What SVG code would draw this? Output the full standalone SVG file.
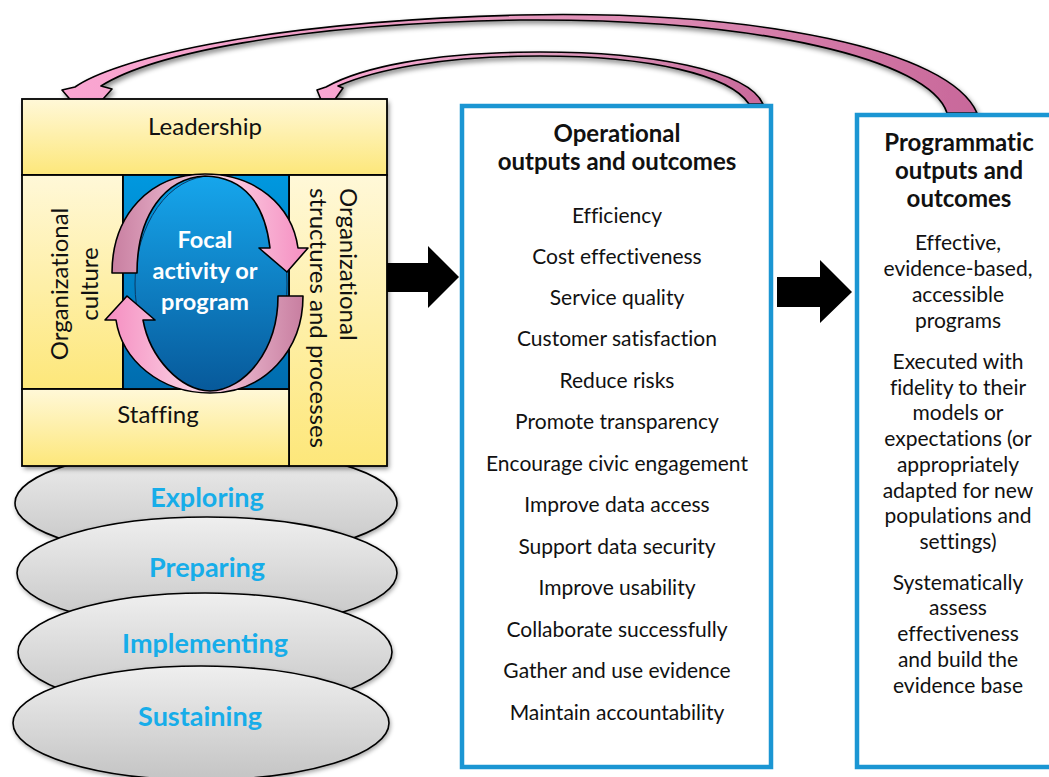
<svg xmlns="http://www.w3.org/2000/svg" width="1049" height="777" viewBox="0 0 1049 777">
<style>
.t{font-family:Lato,"Open Sans","Liberation Sans",sans-serif;fill:#111;font-variant-ligatures:none;}
.item{font-size:21px;text-anchor:middle;}
.title{font-size:24px;font-weight:bold;text-anchor:middle;}
.yel{stroke:#000;stroke-width:1.8;}
.stage{stroke:#000;stroke-width:1.6;fill:url(#gGray);}
.stxt{font-family:Lato,"Open Sans","Liberation Sans",sans-serif;font-size:27px;font-weight:bold;fill:#17ade9;text-anchor:middle;}
.box{fill:#fff;stroke:#1b96d3;stroke-width:4.5;}
.arc{stroke:#000;stroke-width:1.6;stroke-linejoin:round;}
</style>
<defs>
<linearGradient id="gYel" x1="0" y1="0" x2="0" y2="1"><stop offset="0" stop-color="#fff8d8"/><stop offset="1" stop-color="#fde77a"/></linearGradient>
<linearGradient id="gSq" x1="0" y1="0" x2="0" y2="1"><stop offset="0" stop-color="#0098df"/><stop offset="1" stop-color="#006cae"/></linearGradient>
<linearGradient id="gOv" x1="0" y1="0" x2="0" y2="1"><stop offset="0" stop-color="#16a6ec"/><stop offset="1" stop-color="#07599a"/></linearGradient>
<linearGradient id="gGray" x1="0" y1="0" x2="0" y2="1"><stop offset="0" stop-color="#efefef"/><stop offset="1" stop-color="#c4c4c4"/></linearGradient>
<linearGradient id="gArcA" gradientUnits="userSpaceOnUse" x1="60" y1="0" x2="980" y2="0"><stop offset="0" stop-color="#fba6d2"/><stop offset="0.5" stop-color="#e598bd"/><stop offset="1" stop-color="#c8689a"/></linearGradient>
<linearGradient id="gArcB" gradientUnits="userSpaceOnUse" x1="315" y1="0" x2="765" y2="0"><stop offset="0" stop-color="#fba6d2"/><stop offset="0.5" stop-color="#e0a0c0"/><stop offset="1" stop-color="#c8689a"/></linearGradient>
<linearGradient id="gCirTop" gradientUnits="userSpaceOnUse" x1="110" y1="0" x2="310" y2="0"><stop offset="0" stop-color="#c77d9f"/><stop offset="0.55" stop-color="#fbd2e4"/><stop offset="1" stop-color="#f58cc0"/></linearGradient>
<linearGradient id="gCirBot" gradientUnits="userSpaceOnUse" x1="105" y1="0" x2="305" y2="0"><stop offset="0" stop-color="#f58cc0"/><stop offset="0.45" stop-color="#fbd2e4"/><stop offset="1" stop-color="#c77d9f"/></linearGradient>
<filter id="sh" x="-10%" y="-10%" width="130%" height="130%"><feDropShadow dx="2" dy="3" stdDeviation="2.5" flood-color="#000" flood-opacity="0.45"/></filter>
<filter id="shs" x="-10%" y="-10%" width="130%" height="130%"><feDropShadow dx="1" dy="2" stdDeviation="2" flood-color="#000" flood-opacity="0.35"/></filter>
</defs>

<g id="connectors">
  <path id="arc-programmatic" class="arc" filter="url(#sh)" fill="url(#gArcA)" d="M 62 90 L 75 87 C 110 62, 250 22, 520 15 C 760 10, 950 50, 977 113 L 947 113 C 930 60, 760 18, 520 20 C 290 24, 150 55, 101 86 L 112 89 L 86 118 Z"/>
  <path id="arc-operational" class="arc" filter="url(#sh)" fill="url(#gArcB)" d="M 317 90 L 326 87 C 360 68, 430 52, 540 52 C 650 52, 748 70, 763 104 L 749 104 C 730 75, 650 56, 540 56 C 440 56, 375 70, 338 86 L 343 88 L 326 112 Z"/>
  <polygon id="arrow-1" fill="#000" points="385,263 428,263 428,246 459,277 428,308 428,292 385,292"/>
  <polygon id="arrow-2" fill="#000" points="777,277 820,277 820,260 852,292 820,323 820,307 777,307"/>
</g>

<g id="stages">
  <g id="stage-exploring"><ellipse class="stage" filter="url(#shs)" cx="206" cy="503" rx="191" ry="55"/><text class="stxt" x="207" y="507">Exploring</text></g>
  <g id="stage-preparing"><ellipse class="stage" filter="url(#shs)" cx="207" cy="573" rx="190" ry="56"/><text class="stxt" x="207" y="577">Preparing</text></g>
  <g id="stage-implementing"><ellipse class="stage" filter="url(#shs)" cx="205" cy="652" rx="187" ry="59"/><text class="stxt" x="205" y="653">Implementing</text></g>
  <g id="stage-sustaining"><ellipse class="stage" filter="url(#shs)" cx="201" cy="723" rx="188" ry="57"/><text class="stxt" x="200" y="726">Sustaining</text></g>
</g>

<g id="organization">
  <rect x="22" y="99" width="365" height="367" fill="#fde77a" filter="url(#sh)"/>
  <g id="leadership"><rect class="yel" x="22" y="99" width="365" height="76" fill="url(#gYel)"/><text class="t" x="205" y="135" font-size="24" text-anchor="middle">Leadership</text></g>
  <g id="culture"><rect class="yel" x="22" y="175" width="101" height="214" fill="url(#gYel)"/>
    <text class="t" font-size="24" text-anchor="middle" transform="translate(68,284) rotate(-90)">Organizational</text>
    <text class="t" font-size="24" text-anchor="middle" transform="translate(98,284) rotate(-90)">culture</text></g>
  <g id="structures"><rect class="yel" x="289" y="175" width="98" height="291" fill="url(#gYel)"/>
    <text class="t" font-size="24" transform="translate(340,188) rotate(90)">Organizational</text>
    <text class="t" font-size="24" transform="translate(310,188) rotate(90)">structures and processes</text></g>
  <g id="staffing"><rect class="yel" x="22" y="389" width="267" height="77" fill="url(#gYel)"/><text class="t" x="158" y="423" font-size="24" text-anchor="middle">Staffing</text></g>
  <g id="focal">
    <rect x="123" y="175" width="166" height="214" fill="url(#gSq)" stroke="#000" stroke-width="1.8"/>
    <ellipse cx="211" cy="284" rx="76" ry="108" fill="url(#gOv)" stroke="#0a3a66" stroke-width="1"/>
    <path class="arc" fill="url(#gCirTop)" d="M 112 273 C 112 215, 150 174, 205 174 C 255 174, 292 205, 298 248 L 308 248 L 287 272 L 259 248 L 270 248 C 265 205, 245 177, 205 176 C 165 178, 137 215, 137 273 Z"/>
    <path class="arc" fill="url(#gCirBot)" d="M 303 296 C 303 350, 265 393, 210 393 C 160 393, 122 360, 116 320 L 105 320 L 127 296 L 155 320 L 143 320 C 150 358, 180 390, 210 391 C 245 390, 278 350, 278 296 Z"/>
    <text class="t" font-size="23.5" font-weight="bold" text-anchor="middle" style="fill:#fff"><tspan x="205" y="248">Focal</tspan><tspan x="205" y="279">activity or</tspan><tspan x="205" y="310">program</tspan></text>
  </g>
</g>

<g id="operational">
  <rect class="box" x="462" y="106" width="309" height="661"/>
  <text class="t title"><tspan x="617" y="142">Operational</tspan><tspan x="617" y="170">outputs and outcomes</tspan></text>
  <text class="t item" x="617" y="223">Efficiency</text>
  <text class="t item" x="617" y="264">Cost effectiveness</text>
  <text class="t item" x="617" y="305">Service quality</text>
  <text class="t item" x="617" y="346">Customer satisfaction</text>
  <text class="t item" x="617" y="388">Reduce risks</text>
  <text class="t item" x="617" y="429">Promote transparency</text>
  <text class="t item" x="617" y="471">Encourage civic engagement</text>
  <text class="t item" x="617" y="512">Improve data access</text>
  <text class="t item" x="617" y="554">Support data security</text>
  <text class="t item" x="617" y="595">Improve usability</text>
  <text class="t item" x="617" y="637">Collaborate successfully</text>
  <text class="t item" x="617" y="678">Gather and use evidence</text>
  <text class="t item" x="617" y="720">Maintain accountability</text>
</g>

<g id="programmatic">
  <rect class="box" x="857" y="115" width="220" height="652"/>
  <text class="t title"><tspan x="959" y="151">Programmatic</tspan><tspan x="959" y="179">outputs and</tspan><tspan x="959" y="207">outcomes</tspan></text>
  <text class="t item"><tspan x="958" y="250">Effective,</tspan><tspan x="958" y="276">evidence-based,</tspan><tspan x="958" y="302">accessible</tspan><tspan x="958" y="328">programs</tspan></text>
  <text class="t item"><tspan x="958" y="369">Executed with</tspan><tspan x="958" y="395">fidelity to their</tspan><tspan x="958" y="420">models or</tspan><tspan x="958" y="446">expectations (or</tspan><tspan x="958" y="472">appropriately</tspan><tspan x="958" y="498">adapted for new</tspan><tspan x="958" y="523">populations and</tspan><tspan x="958" y="549">settings)</tspan></text>
  <text class="t item"><tspan x="958" y="590">Systematically</tspan><tspan x="958" y="615">assess</tspan><tspan x="958" y="641">effectiveness</tspan><tspan x="958" y="667">and build the</tspan><tspan x="958" y="693">evidence base</tspan></text>
</g>
</svg>
